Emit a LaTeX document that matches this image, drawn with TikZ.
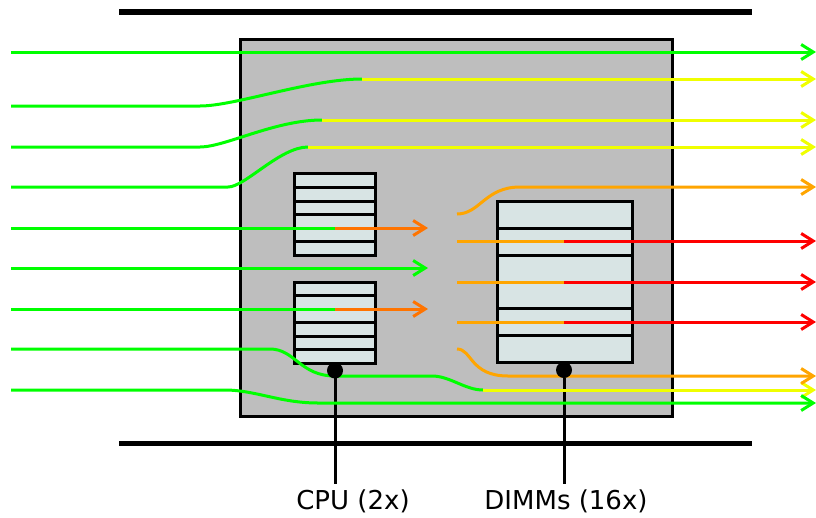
\documentclass[tikz,border=0pt]{standalone}
\usepackage{fontspec}
\setmainfont{DejaVu Sans}
\usetikzlibrary{arrows.meta}
\definecolor{gr}{HTML}{00FF00}
\definecolor{ye}{HTML}{F0FF00}
\definecolor{og}{HTML}{FFA500}
\definecolor{dog}{HTML}{FF7400}
\definecolor{rd}{HTML}{FF0000}
\definecolor{cell}{HTML}{D8E4E4}
\definecolor{shelf}{HTML}{BEBEBE}
\tikzset{
  x=1pt,y=-1pt,
  wire/.style={line width=3pt},
  tip/.style={-{Straight Barb[length=12pt,width=15pt,line width=3pt]}},
  bar/.style={line width=5.5pt,black},
  outline/.style={draw=black,line width=3pt},
  rule/.style={black,line width=3pt},
  lead/.style={black,line width=3pt},
  pin/.style={circle,fill=black,inner sep=0pt,minimum size=16pt},
  caption/.style={font=\fontsize{26}{30}\selectfont,inner sep=0pt}
}
\begin{document}
\begin{tikzpicture}
\useasboundingbox (0,0) rectangle (816,517);
\draw[bar] (119,12) -- (752,12);
\draw[bar] (119,443.5) -- (752,443.5);
\fill[shelf] (240,39) rectangle (672,416);
\draw[outline] (240,39) rectangle (672,416);
% CPU 1
\filldraw[fill=cell,outline] (294,173) rectangle (375.5,255);
\foreach \y in {187,201,214,241} \draw[rule] (294,\y) -- (375.5,\y);
% CPU 2
\filldraw[fill=cell,outline] (294,282) rectangle (375.5,363);
\foreach \y in {295,322,336,349} \draw[rule] (294,\y) -- (375.5,\y);
% DIMMs
\filldraw[fill=cell,outline] (497,201) rectangle (632,362.5);
\foreach \y in {228,255,308,335} \draw[rule] (497,\y) -- (632,\y);
% labels, pins
\node[caption] (cpulabel) at (353,501) {CPU (2x)};
\node[caption] (dimmlabel) at (566,501) {DIMMs (16x)};
\coordinate (cpupos) at (335,370.5);
\coordinate (dimmpos) at (564,370);
\coordinate (cpuend) at (335,484);
\coordinate (dimmend) at (564,484);
\draw[lead] (cpupos) -- (cpuend);
\draw[lead] (dimmpos) -- (dimmend);
% wires
\draw[wire,gr,tip] (11,52) -- (816,52);
\draw[wire,gr] (11,106) -- (200,106) .. controls (235,106) and (310,79) .. (362,79);
\draw[wire,ye,tip] (362,79) -- (816,79);
\draw[wire,gr] (11,147) -- (200,147) .. controls (225,147) and (275,120) .. (322,120);
\draw[wire,ye,tip] (322,120) -- (816,120);
\draw[wire,gr] (11,187) -- (228,187) .. controls (245,187) and (280,147) .. (308,147);
\draw[wire,ye,tip] (308,147) -- (816,147);
\draw[wire,gr] (11,228) -- (335,228);
\draw[wire,dog,tip] (335,228) -- (428,228);
\draw[wire,gr,tip] (11,268) -- (428,268);
\draw[wire,gr] (11,309) -- (335,309);
\draw[wire,dog,tip] (335,309) -- (428,309);
\draw[wire,gr] (11,349) -- (270,349) .. controls (295,349) and (300,376) .. (335,376) -- (432,376) .. controls (450,376) and (465,390) .. (483,390);
\draw[wire,ye,tip] (483,390) -- (816,390);
\draw[wire,gr,tip] (11,390) -- (225,390) .. controls (255,390) and (280,403) .. (318,403) -- (816,403);
\draw[wire,og,tip] (457,214) .. controls (480,214) and (485,187) .. (520,187) -- (816,187);
\draw[wire,og] (457,241) -- (564,241);
\draw[wire,rd,tip] (564,241) -- (816,241);
\draw[wire,og] (457,282) -- (564,282);
\draw[wire,rd,tip] (564,282) -- (816,282);
\draw[wire,og] (457,322) -- (564,322);
\draw[wire,rd,tip] (564,322) -- (816,322);
\draw[wire,og,tip] (457,349) .. controls (472,349) and (470,376) .. (508,376) -- (816,376);
\node[pin] (cpupin) at (cpupos) {};
\node[pin] (dimmpin) at (dimmpos) {};
\end{tikzpicture}
\end{document}
